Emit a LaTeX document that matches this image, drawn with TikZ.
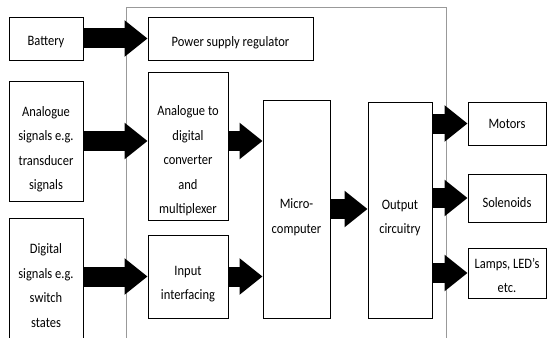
\documentclass[tikz,border=0pt]{standalone}
\usepackage{fontspec}
\setmainfont{Carlito}
\usetikzlibrary{arrows.meta}

\begin{document}
\begin{tikzpicture}[x=1pt, y=-1pt,
		blk/.style={draw, line width=0.9pt, inner sep=0pt},
		txt/.style={align=center, inner sep=0pt, font=\fontsize{12.5}{21.3}\selectfont, yscale=1.15, transform shape},
		fat/.style={line width=20pt, -{Triangle[length=23pt, width=35pt]}}]
			\clip (0,0) rectangle (548,337);

			% outer frame of the controller
			\draw[gray!80, line width=0.8pt] (126,360) -- (126,7) -- (446,7) -- (446,360);

			% inputs
			\node[blk, minimum width=74pt, minimum height=43pt] (battery) at (46,38.5) {};
			\node[blk, minimum width=74pt, minimum height=120pt] (analogue) at (46,141) {};
			\node[blk, minimum width=74pt, minimum height=150pt] (digital) at (46,293) {};
			\node[txt] (batterytext) at (46,42.5) {Battery};
			\node[txt] (analoguetext) at (46,149) {Analogue\\signals e.g.\\transducer\\signals};
			\node[txt] (digitaltext) at (46,285.5) {Digital\\signals e.g.\\switch\\states};

			% inside the frame
			\node[blk, minimum width=165pt, minimum height=43pt] (psr) at (230.5,38.5) {};
			\node[blk, minimum width=80pt, minimum height=148pt] (adc) at (188,146) {};
			\node[blk, minimum width=80pt, minimum height=83pt] (input) at (188,276.5) {};
			\node[blk, minimum width=67pt, minimum height=218pt] (micro) at (296.5,209) {};
			\node[blk, minimum width=64pt, minimum height=216pt] (output) at (400,210) {};
			\node[txt] (psrtext) at (230.5,42.5) {Power supply regulator};
			\node[txt] (adctext) at (188,161) {Analogue to\\digital\\converter\\and\\multiplexer};
			\node[txt] (inputtext) at (188,284) {Input\\interfacing};
			\node[txt] (microtext) at (296.5,217) {Micro-\\computer};
			\node[txt] (outputtext) at (400,218) {Output\\circuitry};

			% outputs
			\node[blk, minimum width=78pt, minimum height=43pt] (motors) at (507,123.5) {};
			\node[blk, minimum width=78pt, minimum height=48pt] (solenoids) at (507,198) {};
			\node[blk, minimum width=78pt, minimum height=50pt] (lamps) at (507,273) {};
			\node[txt] (motorstext) at (507,124) {Motors};
			\node[txt] (solenoidstext) at (507,203) {Solenoids};
			\node[txt] (lampstext) at (507,275.5) {Lamps, LED's\\etc.};

			\draw[fat] (battery.east) -- (battery.east -| psr.west);
			\draw[fat] (analogue.east) -- (analogue.east -| adc.west);
			\draw[fat] (adc.east |- analogue.east) -- (analogue.east -| micro.west);
			\draw[fat] (input.west -| digital.east) -- (input.west);
			\draw[fat] (input.east) -- (input.east -| micro.west);
			\draw[fat] (micro.east) -- (micro.east -| output.west);

			\draw[fat] (motors.west -| output.east) -- (motors.west);
			\draw[fat] (solenoids.west -| output.east) -- (solenoids.west);
			\draw[fat] (lamps.west -| output.east) -- (lamps.west);
		\end{tikzpicture}
\end{document}
